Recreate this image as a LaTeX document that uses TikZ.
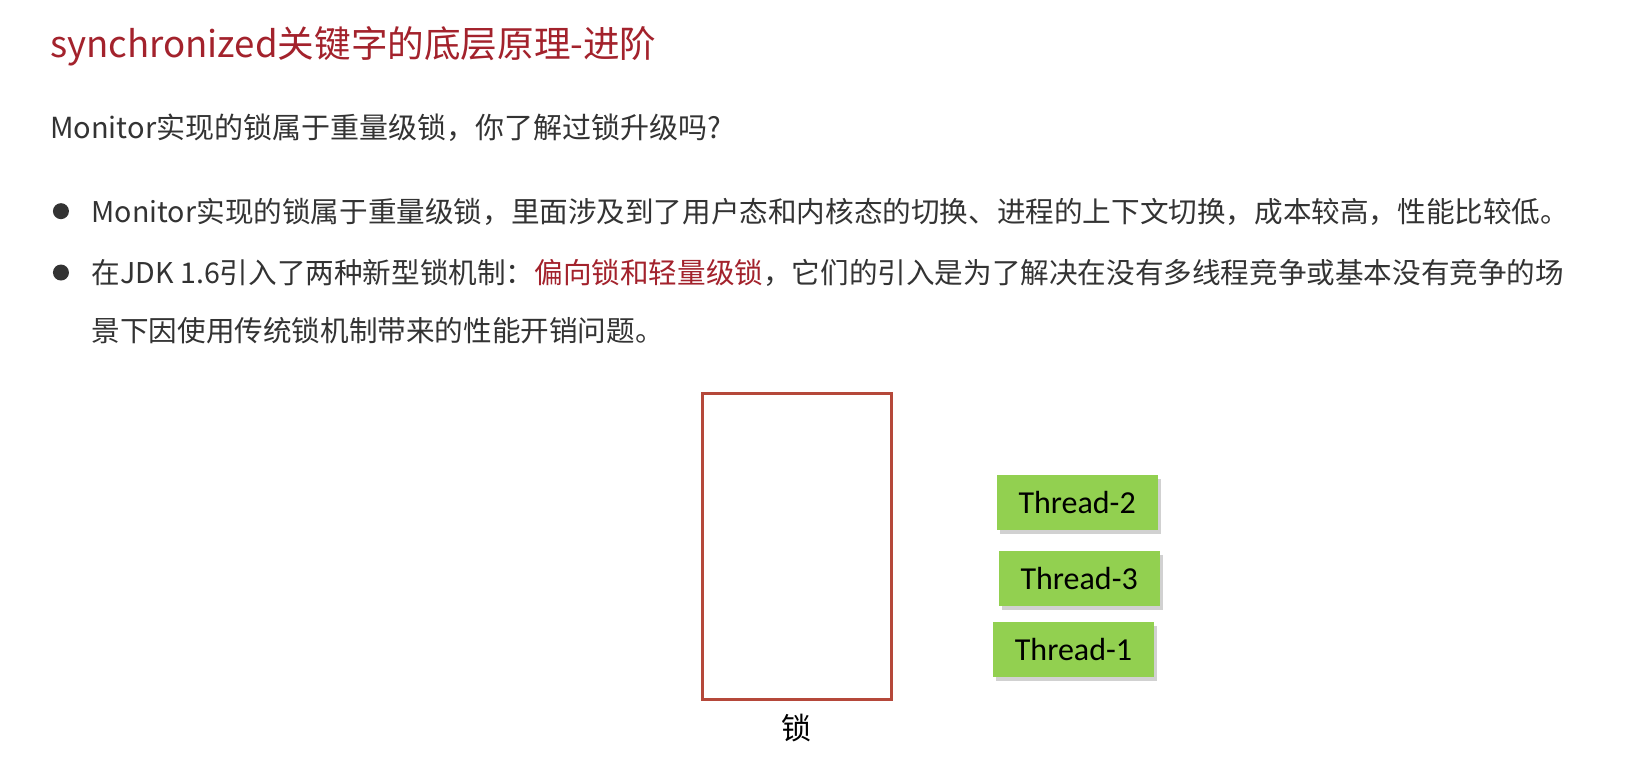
\documentclass[tikz,border=0pt]{standalone}
\usepackage{fontspec}
\setmainfont{Noto Sans CJK SC}
\newfontfamily\thrfont{Carlito}
\usetikzlibrary{shadows}
\definecolor{titlered}{HTML}{A3222C}
\definecolor{bodytext}{HTML}{333333}
\definecolor{lockred}{HTML}{B5483A}
\definecolor{thrgreen}{HTML}{92D050}
\begin{document}
\begin{tikzpicture}[x=1.0402pt,y=-1.0402pt,
  txt/.style={anchor=base west,inner sep=0pt,text=bodytext,font=\fontsize{28.6}{32}\selectfont},
  thr/.style={fill=thrgreen,minimum width=161pt,minimum height=55pt,inner sep=0pt,
    font=\thrfont\fontsize{32}{36}\selectfont,text=black,
    drop shadow={shadow xshift=3pt,shadow yshift=-4pt,opacity=0.18,fill=black}},
  dot/.style={circle,fill=bodytext,inner sep=0pt,minimum size=16pt}]
\useasboundingbox (0,0) rectangle (1568,748);
\fill[white] (0,0) rectangle (1568,748);
\node[anchor=base west,inner sep=0pt,text=titlered,font=\fontsize{36.6}{40}\selectfont] (title) at (48,55) {synchronized关键字的底层原理-进阶};
\node[txt,font=\fontsize{29}{32}\selectfont] (sub) at (48,133) {Monitor实现的锁属于重量级锁，你了解过锁升级吗?};
\node[dot] (d1) at (58.6,203) {};
\node[txt] (b1) at (88,214) {Monitor实现的锁属于重量级锁，里面涉及到了用户态和内核态的切换、进程的上下文切换，成本较高，性能比较低。};
\node[dot] (d2) at (58.6,262) {};
\node[txt] (b2) at (88,273) {在JDK 1.6引入了两种新型锁机制：\textcolor{titlered}{偏向锁和轻量级锁}，它们的引入是为了解决在没有多线程竞争或基本没有竞争的场};
\node[txt] (b3) at (88,328) {景下因使用传统锁机制带来的性能开销问题。};
\node[draw=lockred,line width=3.1pt,minimum width=189pt,minimum height=306pt,inner sep=0pt] (lock) at (766,525) {};
\node[inner sep=0pt,text=black,font=\fontsize{30}{34}\selectfont,anchor=center] (locklabel) at (766,700) {锁};
\node[thr] (t2) at (1035.5,483.5) {Thread-2};
\node[thr] (t3) at (1037.5,556.5) {Thread-3};
\node[thr] (t1) at (1032,624) {Thread-1};
\end{tikzpicture}
\end{document}
